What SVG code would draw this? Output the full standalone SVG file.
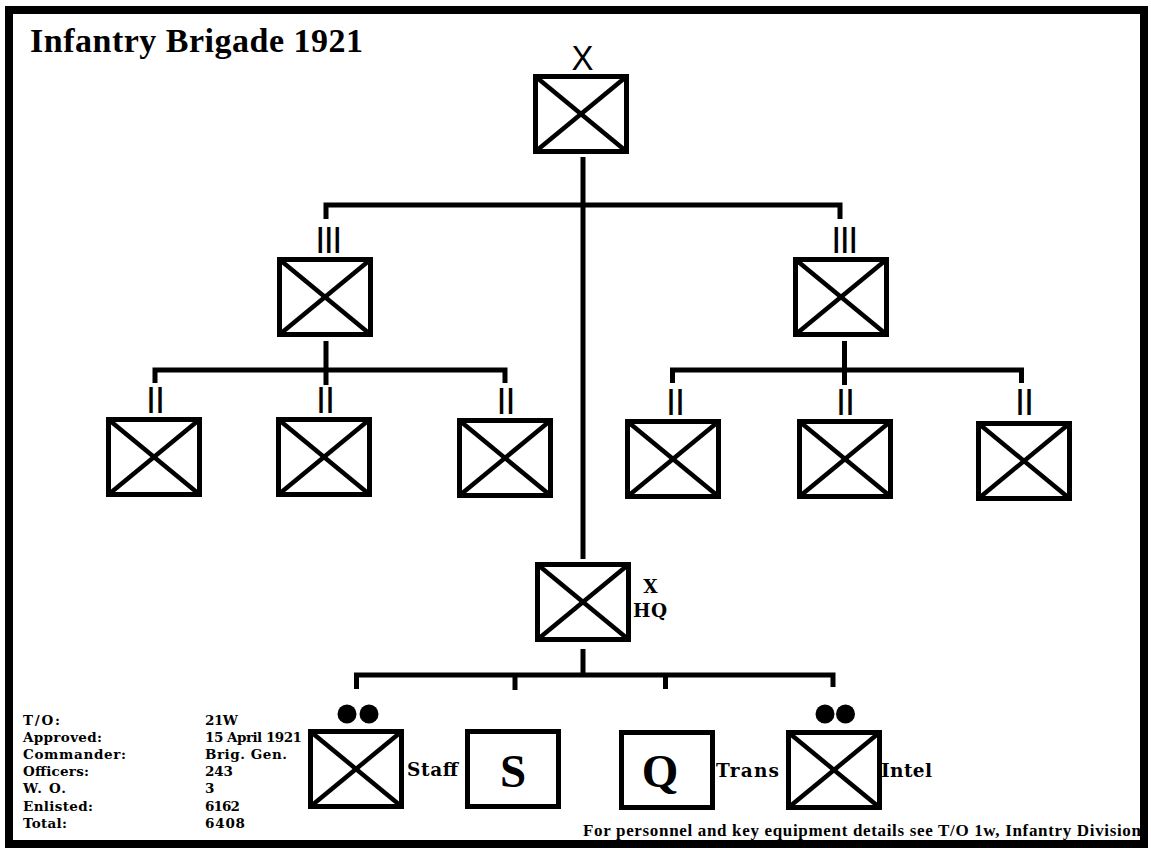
<svg xmlns="http://www.w3.org/2000/svg" xmlns:xlink="http://www.w3.org/1999/xlink" width="1151" height="848" viewBox="0 0 1151 848">
<style>
.ln{stroke:#000;stroke-width:5;fill:none;stroke-linecap:butt;stroke-linejoin:miter}
.bf{stroke:#000;stroke-width:5;fill:#fff}
.dg{stroke:#000;stroke-width:4.5}
.sf{font-family:"Liberation Serif","Times New Roman",serif;font-weight:bold;fill:#000}
.dv{font-family:"DejaVu Serif","Liberation Serif",serif;font-weight:bold;fill:#000}
.ss{font-family:"Liberation Sans",Arial,sans-serif;fill:#000}
.sm{font-size:13.5px}
.ech{font-size:36px;text-anchor:middle}
</style>
<defs>
<g id="bx">
<rect class="bf" x="2.5" y="2.5" width="91" height="75"/>
<line class="dg" x1="2.5" y1="2.5" x2="93.5" y2="77.5"/>
<line class="dg" x1="93.5" y1="2.5" x2="2.5" y2="77.5"/>
</g>
<g id="pb">
<rect class="bf" x="2.5" y="2.5" width="91" height="75"/>
</g>
</defs>
<rect x="0" y="0" width="1151" height="848" fill="#fff"/>
<rect x="9" y="10" width="1135" height="834" fill="none" stroke="#000" stroke-width="8"/>
<text class="sf" x="30" y="52" font-size="34" textLength="333">Infantry Brigade 1921</text>

<g id="connectors">
<line class="ln" x1="583" y1="157" x2="583" y2="559"/>
<path class="ln" d="M326,219 V205 H840 V219"/>
<line class="ln" x1="326" y1="341" x2="326" y2="385"/>
<path class="ln" d="M155,383 V370 H505 V383"/>
<line class="ln" x1="844.5" y1="341" x2="844.5" y2="385"/>
<path class="ln" d="M672.5,383 V370 H1021.5 V383"/>
<line class="ln" x1="583" y1="649" x2="583" y2="675"/>
<path class="ln" d="M356.5,689 V675 H833 V687"/>
<line class="ln" x1="515" y1="675" x2="515" y2="690"/>
<line class="ln" x1="665.5" y1="675" x2="665.5" y2="689"/>
</g>

<g id="brigade">
<use xlink:href="#bx" x="533" y="74"/>
<text class="ss" x="582.5" y="70" font-size="35" text-anchor="middle" textLength="22" lengthAdjust="spacingAndGlyphs">X</text>
</g>
<g id="regiment-left">
<use xlink:href="#bx" x="277" y="257"/>
<text class="ss ech" x="328" y="253" letter-spacing="-1.5">III</text>
</g>
<g id="regiment-right">
<use xlink:href="#bx" x="793" y="257"/>
<text class="ss ech" x="844" y="253" letter-spacing="-1.5">III</text>
</g>
<g id="battalion-l1">
<use xlink:href="#bx" x="106" y="417"/>
<text class="ss ech" x="155" y="413" letter-spacing="-1">II</text>
</g>
<g id="battalion-l2">
<use xlink:href="#bx" x="276" y="417"/>
<text class="ss ech" x="325" y="413" letter-spacing="-1">II</text>
</g>
<g id="battalion-l3">
<use xlink:href="#bx" x="457" y="418"/>
<text class="ss ech" x="505.5" y="414" letter-spacing="-1">II</text>
</g>
<g id="battalion-r1">
<use xlink:href="#bx" x="625" y="419"/>
<text class="ss ech" x="675" y="415" letter-spacing="-1">II</text>
</g>
<g id="battalion-r2">
<use xlink:href="#bx" x="797" y="419"/>
<text class="ss ech" x="845" y="415" letter-spacing="-1">II</text>
</g>
<g id="battalion-r3">
<use xlink:href="#bx" x="976" y="421"/>
<text class="ss ech" x="1024" y="415" letter-spacing="-1">II</text>
</g>
<g id="hq">
<use xlink:href="#bx" x="535" y="562"/>
<text class="dv" x="650.5" y="593" font-size="18.5" text-anchor="middle">X</text>
<text class="dv" x="633" y="617" font-size="18.5" textLength="34">HQ</text>
</g>
<g id="staff">
<use xlink:href="#bx" x="308" y="729"/>
<circle cx="347" cy="714" r="9.5"/>
<circle cx="369" cy="714" r="9.5"/>
<text class="dv" x="407" y="776" font-size="18.5" textLength="51">Staff</text>
</g>
<g id="supply">
<use xlink:href="#pb" x="465" y="729"/>
<text class="sf" x="513" y="787" font-size="47" text-anchor="middle">S</text>
</g>
<g id="quartermaster">
<use xlink:href="#pb" x="619" y="730"/>
<text class="sf" x="660" y="787" font-size="47" text-anchor="middle">Q</text>
<text class="dv" x="716" y="777" font-size="18.5" textLength="63">Trans</text>
</g>
<g id="intel">
<use xlink:href="#bx" x="786" y="730"/>
<circle cx="825" cy="714" r="9.5"/>
<circle cx="845.5" cy="714" r="9.5"/>
<text class="dv" x="881" y="777" font-size="18.5" textLength="51">Intel</text>
</g>

<g id="table" class="dv sm">
<text x="23" y="725" textLength="37">T/O:</text>
<text x="23" y="742" textLength="79">Approved:</text>
<text x="23" y="759" textLength="103">Commander:</text>
<text x="23" y="776" textLength="66">Officers:</text>
<text x="23" y="793" textLength="43">W. O.</text>
<text x="23" y="810.5" textLength="70">Enlisted:</text>
<text x="23" y="828" textLength="44">Total:</text>
<text x="205" y="725" textLength="33">21W</text>
<text x="205" y="742" textLength="97">15 April 1921</text>
<text x="205" y="759" textLength="82">Brig. Gen.</text>
<text x="205" y="776" textLength="28">243</text>
<text x="205" y="793">3</text>
<text x="205" y="810.5" textLength="35">6162</text>
<text x="205" y="828" textLength="40">6408</text>
</g>
<text class="sf" x="583" y="836" font-size="17" textLength="558">For personnel and key equipment details see T/O 1w, Infantry Division</text>
</svg>
